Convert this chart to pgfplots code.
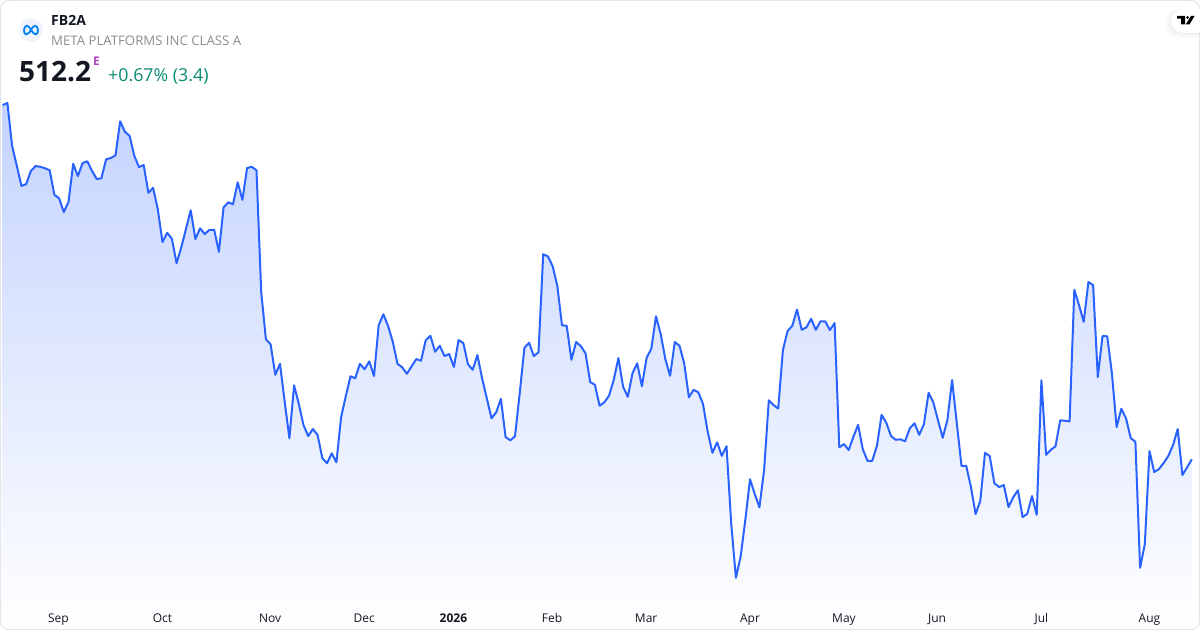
\documentclass[border=0pt]{standalone}
\usepackage{pgfplots}
\usepackage{pgfplotstable}
\usepackage{fontspec}
\pgfplotsset{compat=1.18}
\setmainfont{Open Sans}

\definecolor{tvblue}{HTML}{2962FF}
\definecolor{areatop}{HTML}{C4D3FF}
\definecolor{cardline}{HTML}{E4E6EC}
\definecolor{inktext}{HTML}{131722}
\definecolor{subtext}{HTML}{8A8D96}
\definecolor{upgreen}{HTML}{0A8A72}
\definecolor{epurple}{HTML}{AB47BC}
\definecolor{logobg}{HTML}{F0F3FA}
\definecolor{metablue}{HTML}{0081FB}

% day index, price (price scale pinned on the last close 512.2 and last move 3.4)
\pgfplotstableread[row sep=\\]{
day price\\
0 653.9\\ 1 654.7\\ 2 637.6\\ 3 629.6\\ 4 621.5\\ 5 622.3\\ 6 627.6\\ 7 629.5\\ 8 629.2\\ 9 628.6\\
10 627.8\\ 11 618.0\\ 12 616.6\\ 13 611.1\\ 14 615.1\\ 15 630.4\\ 16 625.5\\ 17 630.7\\ 18 631.4\\ 19 627.6\\
20 624.3\\ 21 624.6\\ 22 632.2\\ 23 632.7\\ 24 633.8\\ 25 647.4\\ 26 643.2\\ 27 641.6\\ 28 633.6\\ 29 629.1\\
30 629.9\\ 31 618.8\\ 32 620.8\\ 33 612.2\\ 34 599.1\\ 35 602.8\\ 36 600.4\\ 37 590.6\\ 38 597.0\\ 39 604.4\\
40 611.8\\ 41 600.3\\ 42 604.6\\ 43 602.3\\ 44 604.0\\ 45 604.0\\ 46 595.2\\ 47 613.0\\ 48 615.0\\ 49 614.2\\
50 623.0\\ 51 616.0\\ 52 628.7\\ 53 629.2\\ 54 627.8\\ 55 579.2\\ 56 560.2\\ 57 558.2\\ 58 546.0\\ 59 550.4\\
60 535.2\\ 61 520.6\\ 62 541.8\\ 63 534.3\\ 64 525.9\\ 65 521.5\\ 66 524.3\\ 67 521.9\\ 68 512.7\\ 69 510.6\\
70 514.6\\ 71 511.0\\ 72 529.0\\ 73 537.5\\ 74 545.4\\ 75 544.6\\ 76 550.4\\ 77 548.2\\ 78 551.4\\ 79 545.5\\
80 565.9\\ 81 570.2\\ 82 565.5\\ 83 559.2\\ 84 550.4\\ 85 549.0\\ 86 546.4\\ 87 549.4\\ 88 552.3\\ 89 551.6\\
90 559.8\\ 91 561.6\\ 92 555.2\\ 93 557.6\\ 94 553.5\\ 95 554.3\\ 96 549.1\\ 97 559.9\\ 98 558.7\\ 99 550.2\\
100 548.0\\ 101 553.9\\ 102 544.6\\ 103 536.6\\ 104 528.6\\ 105 531.0\\ 106 536.4\\ 107 521.1\\ 108 519.8\\ 109 521.4\\
110 538.6\\ 111 556.8\\ 112 558.8\\ 113 553.5\\ 114 555.0\\ 115 594.2\\ 116 593.4\\ 117 589.5\\ 118 581.6\\ 119 565.8\\
120 565.6\\ 121 552.0\\ 122 559.1\\ 123 557.5\\ 124 554.6\\ 125 543.1\\ 126 542.0\\ 127 533.6\\ 128 535.0\\ 129 537.6\\
130 543.9\\ 131 552.7\\ 132 541.2\\ 133 537.2\\ 134 546.6\\ 135 550.6\\ 136 541.4\\ 137 552.8\\ 138 556.4\\ 139 569.4\\
140 562.3\\ 141 552.2\\ 142 545.6\\ 143 559.1\\ 144 557.6\\ 145 550.6\\ 146 537.0\\ 147 540.0\\ 148 539.0\\ 149 534.3\\
150 523.2\\ 151 514.8\\ 152 519.0\\ 153 513.6\\ 154 517.4\\ 155 486.6\\ 156 464.8\\ 157 473.2\\ 158 487.9\\ 159 504.2\\
160 498.4\\ 161 493.0\\ 162 507.9\\ 163 535.8\\ 164 533.9\\ 165 532.5\\ 166 555.9\\ 167 563.5\\ 168 565.6\\ 169 572.1\\
170 564.0\\ 171 565.0\\ 172 568.4\\ 173 564.0\\ 174 567.4\\ 175 567.4\\ 176 563.9\\ 177 566.7\\ 178 517.0\\ 179 518.3\\
180 515.9\\ 181 521.2\\ 182 526.0\\ 183 516.2\\ 184 511.6\\ 185 511.6\\ 186 517.5\\ 187 530.0\\ 188 526.8\\ 189 521.5\\
190 520.0\\ 191 520.2\\ 192 519.4\\ 193 524.6\\ 194 526.6\\ 195 522.0\\ 196 526.2\\ 197 538.8\\ 198 535.0\\ 199 527.8\\
200 520.8\\ 201 527.9\\ 202 543.9\\ 203 526.6\\ 204 509.6\\ 205 509.6\\ 206 501.2\\ 207 490.3\\ 208 495.6\\ 209 514.8\\
210 513.5\\ 211 502.6\\ 212 501.1\\ 213 501.9\\ 214 493.1\\ 215 497.0\\ 216 499.8\\ 217 489.1\\ 218 490.4\\ 219 497.5\\
220 490.0\\ 221 543.8\\ 222 514.0\\ 223 516.0\\ 224 517.4\\ 225 527.8\\ 226 527.6\\ 227 527.4\\ 228 580.0\\ 229 573.9\\
230 567.2\\ 231 583.1\\ 232 581.9\\ 233 545.1\\ 234 561.5\\ 235 561.4\\ 236 546.6\\ 237 525.1\\ 238 532.4\\ 239 528.6\\
240 520.7\\ 241 519.2\\ 242 468.8\\ 243 478.3\\ 244 515.5\\ 245 507.1\\ 246 508.3\\ 247 510.7\\ 248 513.5\\ 249 517.8\\
250 524.3\\ 251 505.9\\ 252 509.0\\ 253 512.2\\
}\pricedata

\begin{document}
\begin{tikzpicture}
\useasboundingbox (0,0) rectangle (1200pt,630pt);
\begin{axis}[
    at={(0,0)}, anchor=south west,
    scale only axis,
    width=1200pt, height=630pt,
    xmin=-0.574, xmax=254.74,
    ymin=443.92, ymax=695.92,
    axis on top,
    axis line style={draw=none},
    tick style={draw=none},
    ytick=\empty,
    xtick={11.87,34,56.9,76.9,95.9,116.9,136.9,159,179,198.8,221,244},
    xticklabels={Sep,Oct,Nov,Dec,\textbf{2026},Feb,Mar,Apr,May,Jun,Jul,Aug},
    xticklabel style={font=\fontsize{12}{14}\selectfont, text=inktext, anchor=base, yshift=8pt},
]
% area under the line, fading to white at the foot
\addplot[draw=none, shade, top color=areatop, bottom color=white] table[x=day, y=price] {\pricedata} \closedcycle;
\addplot[color=tvblue, line width=2pt, line join=round] table[x=day, y=price] {\pricedata};
\end{axis}

\begin{scope}[x=1pt, y=-1pt, yshift=630pt]
% card outline
\draw[cardline, line width=1pt, rounded corners=8pt] (0.5,0.5) rectangle (1199.5,629.5);
% header
\fill[logobg] (31,30) circle (12pt);
\draw[metablue, line width=1.8pt]
    (31,30) .. controls (29,26.5) and (28,25.8) .. (26.8,25.8)
    .. controls (25,25.8) and (24,28) .. (24,30.5)
    .. controls (24,33) and (25,34.3) .. (26.5,34.3)
    .. controls (28.5,34.3) and (30,31.5) .. (31,30)
    .. controls (32,28) and (33.5,25.8) .. (35.2,25.8)
    .. controls (37,25.8) and (38,28) .. (38,30.5)
    .. controls (38,33) and (37,34.3) .. (35.5,34.3)
    .. controls (34,34.3) and (33,32.5) .. (31,30);
\node[anchor=base west, inner sep=0, text=inktext, font=\fontsize{14}{16}\selectfont\bfseries] at (51,26) {FB2A};
\node[anchor=base west, inner sep=0, text=subtext, font=\fontsize{13.2}{15}\selectfont] at (51,45.5) {META PLATFORMS INC CLASS A};
\node[anchor=base west, inner sep=0, text=inktext, font=\fontsize{28}{32}\selectfont\bfseries] at (19,81.5) {512.2};
\node[anchor=base west, inner sep=0, text=epurple, font=\fontsize{12}{12}\selectfont\bfseries] at (93,66) {E};
\node[anchor=base west, inner sep=0, text=upgreen, font=\fontsize{17.8}{20}\selectfont] at (108,81.5) {+0.67\% (3.4)};
% attribution badge
\foreach \g in {5,4,3,2,1}
    \fill[black, opacity=0.012, rounded corners=12pt] (1171-\g,9) rectangle (1215,33+\g);
\fill[white, rounded corners=12pt] (1171,9) rectangle (1215,33);
\fill[black] (1177,16) -- (1185,16) -- (1185,24.5) -- (1181,24.5) -- (1181,18.7) -- (1177,18.7) -- cycle;
\fill[black] (1187.5,17.5) circle (1.5pt);
\fill[black] (1191,16) -- (1194.5,16) -- (1189.5,24.5) -- (1185.7,24.5) -- cycle;
\end{scope}
\end{tikzpicture}
\end{document}
